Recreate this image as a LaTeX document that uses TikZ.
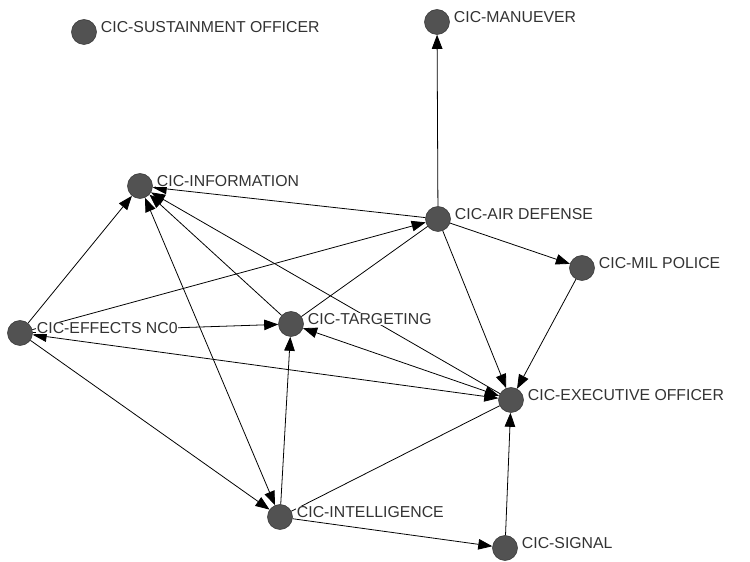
\documentclass[tikz,border=0pt]{standalone}
\usepackage{fontspec}
\setmainfont{Liberation Sans}
\usetikzlibrary{positioning,arrows.meta}

\tikzset{
  actor/.style={circle,fill=black!68,draw=black!80,line width=.3pt,minimum size=.5cm,inner sep=0pt},
  actorlbl/.style={anchor=west,fill=white,inner sep=.5pt,text=black!80,font=\fontsize{9}{10}\selectfont},
  tie/.style={black,line width=.45pt,-{Triangle[length=8pt,width=6pt]}},
  mutual/.style={black,line width=.45pt,{Triangle[length=8pt,width=6pt]}-{Triangle[length=8pt,width=6pt]}},
  plain/.style={black,line width=.45pt}
}

\begin{document}
\begin{tikzpicture}
\useasboundingbox (0,0) rectangle (15,11.24);
% actors
\node[actor] (sust) at (1.68,10.60) {};
\node[actor] (man) at (8.74,10.80) {};
\node[actor] (info) at (2.80,7.52) {};
\node[actor] (air) at (8.76,6.86) {};
\node[actor] (mil) at (11.64,5.88) {};
\node[actor] (eff) at (0.40,4.58) {};
\node[actor] (tar) at (5.82,4.76) {};
\node[actor] (exec) at (10.22,3.24) {};
\node[actor] (intel) at (5.60,0.90) {};
\node[actor] (sig) at (10.10,0.28) {};
% ties
\draw[tie] (air) -- (man);
\draw[tie] (air) -- (info);
\draw[tie] (air) -- (mil);
\draw[tie] (air) -- (exec);
\draw[plain] (air) -- (tar);
\draw[tie] (mil) -- (exec);
\draw[tie] (eff) -- (info);
\draw[tie] (eff) -- (air);
\draw[tie] (eff) -- (tar);
\draw[tie] (eff) -- (intel);
\draw[mutual] (eff) -- (exec);
\draw[mutual] (tar) -- (exec);
\draw[tie] (tar) -- (info);
\draw[tie] (intel) -- (tar);
\draw[mutual] (info) -- (intel);
\draw[tie] (exec) -- (info);
\draw[plain] (intel) -- (exec);
\draw[tie] (intel) -- (sig);
\draw[tie] (sig) -- (exec);
% labels
\node[actorlbl,right=.06cm of sust,yshift=.1cm] (sustl) {CIC-SUSTAINMENT OFFICER};
\node[actorlbl,right=.06cm of man,yshift=.1cm] (manl) {CIC-MANUEVER};
\node[actorlbl,right=.06cm of info,yshift=.1cm] (infol) {CIC-INFORMATION};
\node[actorlbl,right=.06cm of air,yshift=.1cm] (airl) {CIC-AIR DEFENSE};
\node[actorlbl,right=.06cm of mil,yshift=.1cm] (mill) {CIC-MIL POLICE};
\node[actorlbl,right=.06cm of eff,yshift=.1cm] (effl) {CIC-EFFECTS NC0};
\node[actorlbl,right=.06cm of tar,yshift=.1cm] (tarl) {CIC-TARGETING};
\node[actorlbl,right=.06cm of exec,yshift=.1cm] (execl) {CIC-EXECUTIVE OFFICER};
\node[actorlbl,right=.06cm of intel,yshift=.1cm] (intell) {CIC-INTELLIGENCE};
\node[actorlbl,right=.06cm of sig,yshift=.1cm] (sigl) {CIC-SIGNAL};
\end{tikzpicture}
\end{document}
